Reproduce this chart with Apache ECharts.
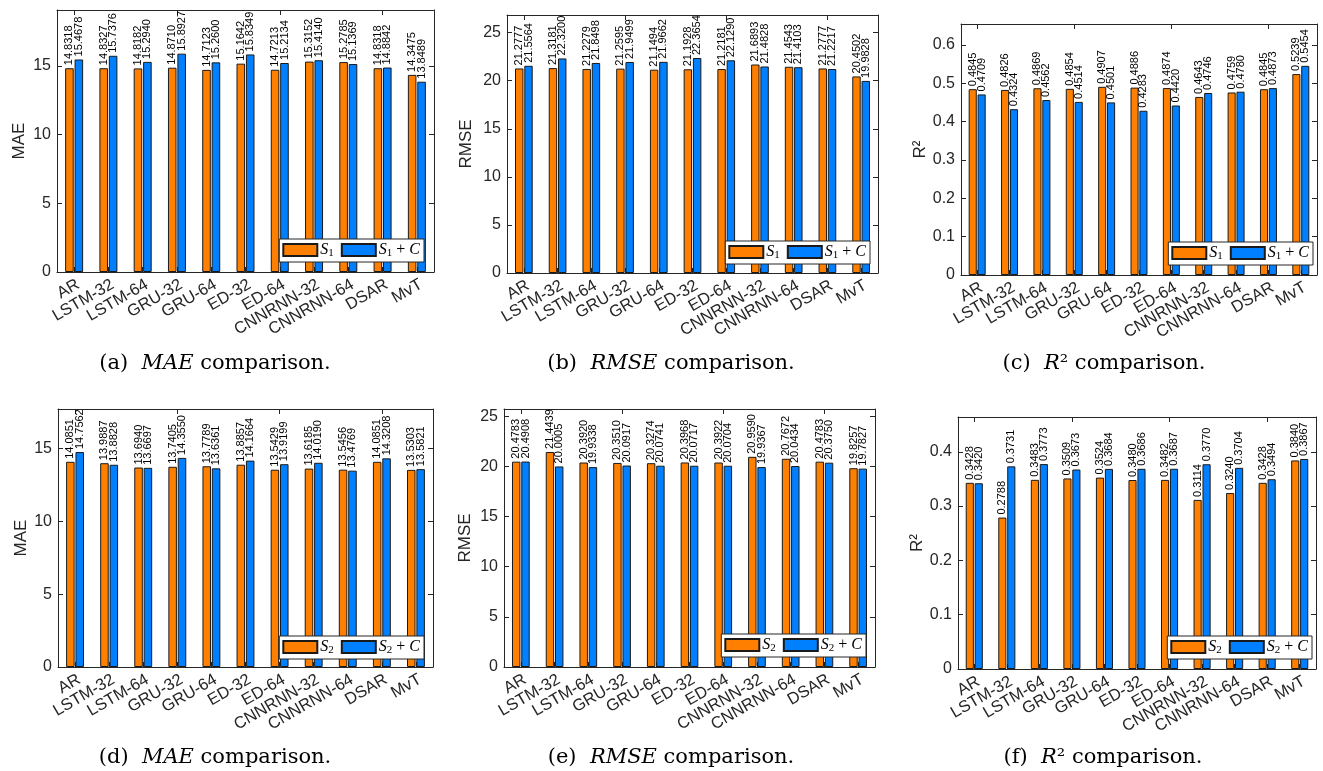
<!DOCTYPE html>
<html><head><meta charset="utf-8">
<script src="https://cdn.jsdelivr.net/npm/echarts@6/dist/echarts.min.js"></script>
<style>html,body{margin:0;padding:0;background:#fff;}#c{width:1323px;height:771px;}</style>
</head><body><div id="c"></div>
<script>
const categories = ['AR','LSTM-32','LSTM-64','GRU-32','GRU-64','ED-32','ED-64','CNNRNN-32','CNNRNN-64','DSAR','MvT'];

const maeS1   = [14.8318, 14.8327, 14.8182, 14.8710, 14.7123, 15.1642, 14.7213, 15.3152, 15.2785, 14.8318, 14.3475];
const maeS1C  = [15.4678, 15.7376, 15.2940, 15.8927, 15.2600, 15.8349, 15.2134, 15.4140, 15.1369, 14.8842, 13.8489];
const rmseS1  = [21.2777, 21.3181, 21.2279, 21.2595, 21.1494, 21.1928, 21.2181, 21.6893, 21.4543, 21.2777, 20.4502];
const rmseS1C = [21.5564, 22.3200, 21.8498, 21.9499, 21.9662, 22.3654, 22.1290, 21.4828, 21.4103, 21.2217, 19.9828];
const r2S1    = [0.4845, 0.4826, 0.4869, 0.4854, 0.4907, 0.4886, 0.4874, 0.4643, 0.4759, 0.4845, 0.5239];
const r2S1C   = [0.4709, 0.4324, 0.4562, 0.4514, 0.4501, 0.4283, 0.4420, 0.4746, 0.4780, 0.4873, 0.5454];

const maeS2   = [14.0851, 13.9887, 13.6940, 13.7405, 13.7789, 13.8857, 13.5429, 13.6185, 13.5456, 14.0851, 13.5303];
const maeS2C  = [14.7562, 13.8828, 13.6697, 14.3550, 13.6361, 14.1664, 13.9199, 14.0190, 13.4769, 14.3208, 13.5821];
const rmseS2  = [20.4783, 21.4439, 20.3920, 20.3510, 20.3274, 20.3968, 20.3922, 20.9590, 20.7672, 20.4783, 19.8257];
const rmseS2C = [20.4908, 20.0005, 19.9338, 20.0917, 20.0741, 20.0717, 20.0704, 19.9367, 20.0434, 20.3750, 19.7827];
const r2S2    = [0.3428, 0.2788, 0.3483, 0.3509, 0.3524, 0.3480, 0.3482, 0.3114, 0.3240, 0.3428, 0.3840];
const r2S2C   = [0.3420, 0.3731, 0.3773, 0.3673, 0.3684, 0.3686, 0.3687, 0.3770, 0.3704, 0.3494, 0.3867];

const seriesNames1 = ['S1', 'S1+C'];
const seriesNames2 = ['S2', 'S2+C'];
const yMaxes = [19.07, 26.84, 0.6545, 17.71, 25.73, 0.464];

const panels = [
  {L:57,  T:10,  R:434,  B:272, a:maeS1,  b:maeS1C,  names:seriesNames1, yName:'MAE',  gap:29, interval:5,   cap:'(a)  {it|MAE} comparison.',  cx:215,  cy:364, lr:424,  lb:262},
  {L:507, T:15,  R:878,  B:273, a:rmseS1, b:rmseS1C, names:seriesNames1, yName:'RMSE', gap:32, interval:5,   cap:'(b)  {it|RMSE} comparison.', cx:671,  cy:364, lr:870,  lb:264},
  {L:961, T:24,  R:1317, B:275, a:r2S1,   b:r2S1C,   names:seriesNames1, yName:'R²',   gap:30, interval:0.1, cap:'(c)  {it|R}² comparison.',   cx:1104, cy:364, lr:1313, lb:265},
  {L:58,  T:409, R:433,  B:667, a:maeS2,  b:maeS2C,  names:seriesNames2, yName:'MAE',  gap:28, interval:5,   cap:'(d)  {it|MAE} comparison.',  cx:215,  cy:758, lr:424,  lb:659},
  {L:504, T:409, R:875,  B:667, a:rmseS2, b:rmseS2C, names:seriesNames2, yName:'RMSE', gap:30, interval:5,   cap:'(e)  {it|RMSE} comparison.', cx:671,  cy:758, lr:866,  lb:657},
  {L:958, T:417, R:1316, B:669, a:r2S2,   b:r2S2C,   names:seriesNames2, yName:'R²',   gap:28, interval:0.1, cap:'(f)  {it|R}² comparison.',   cx:1103, cy:758, lr:1312, lb:659}
];

const AX = '#262626';
const SANS = 'Liberation Sans';
const SERIF = 'DejaVu Serif';
const LSERIF = 'Liberation Serif';
const ORANGE = '#FF8000';
const BLUE = '#0080FF';

const grids = [], xAxes = [], yAxes = [], series = [], legends = [], graphics = [];

panels.forEach((p, i) => {
  const ymax = yMaxes[i];
  grids.push({left:p.L, top:p.T, width:p.R - p.L, height:p.B - p.T, show:false});
  const tickFmt = v => {
    const k = v / p.interval;
    if (Math.abs(k - Math.round(k)) > 1e-6) return '';
    return String(+v.toFixed(p.interval < 1 ? 1 : 0));
  };
  const baseX = {
    type:'category', gridIndex:i, data:categories, boundaryGap:true,
    axisLine:{show:true, onZero:false, lineStyle:{color:AX, width:1}},
    axisTick:{show:true, inside:true, alignWithLabel:true, length:5, lineStyle:{color:AX}},
    splitLine:{show:false}
  };
  xAxes.push(Object.assign({}, baseX, {
    position:'bottom',
    axisLabel:{show:true, interval:0, rotate:30, verticalAlign:'top', fontSize:16.5, color:AX, fontFamily:SANS, margin:4}
  }));
  xAxes.push(Object.assign({}, baseX, {position:'top', axisLabel:{show:false}}));
  const baseY = {
    type:'value', gridIndex:i, min:0, max:ymax, interval:p.interval,
    axisLine:{show:true, onZero:false, lineStyle:{color:AX, width:1}},
    axisTick:{show:true, inside:true, length:5, lineStyle:{color:AX}},
    splitLine:{show:false}
  };
  yAxes.push(Object.assign({}, baseY, {
    position:'left', name:p.yName, nameLocation:'middle', nameGap:p.gap, nameRotate:90,
    nameTextStyle:{fontSize:17, color:AX, fontFamily:SANS},
    axisLabel:{show:true, fontSize:16, color:AX, fontFamily:SANS, margin:6, formatter:tickFmt, showMaxLabel:false}
  }));
  yAxes.push(Object.assign({}, baseY, {position:'right', axisLabel:{show:false}}));

  const mk = (name, data, color) => ({
    type:'bar', name, data, xAxisIndex:2*i, yAxisIndex:2*i,
    barWidth:'25%', barGap:'10%',
    itemStyle:{color, borderColor:'#1a1a1a', borderWidth:1},
    label:{show:true, position:'top', rotate:90, align:'left', verticalAlign:'middle', distance:3,
      fontSize:11, fontFamily:SANS, color:'#000', formatter:q => q.value.toFixed(4)},
    emphasis:{disabled:true}, silent:true
  });
  series.push(mk(p.names[0], p.a, ORANGE));
  series.push(mk(p.names[1], p.b, BLUE));

  const sub = p.names[0].slice(1);
  legends.push({
    data:p.names, orient:'horizontal', right:1323 - p.lr, bottom:771 - p.lb,
    icon:'rect', itemWidth:34, itemHeight:12, itemGap:7,
    backgroundColor:'#fff', borderColor:AX, borderWidth:1, padding:[3,4,3,3],
    selectedMode:false,
    formatter: n => n.indexOf('+') >= 0 ? '{i|S}{s|' + sub + '}{n| + }{i|C}' : '{i|S}{s|' + sub + '}',
    textStyle:{fontSize:16, fontFamily:LSERIF, color:'#000', padding:[0,0,0,-2],
      rich:{
        i:{fontSize:16, fontFamily:LSERIF, fontStyle:'italic', color:'#000', lineHeight:18},
        s:{fontSize:11, fontFamily:LSERIF, color:'#000', lineHeight:18, verticalAlign:'bottom'},
        n:{fontSize:16, fontFamily:LSERIF, color:'#000', lineHeight:18}
      }}
  });

  graphics.push({
    type:'text', x:p.cx, y:p.cy,
    style:{text:p.cap, fontSize:21, fontFamily:SERIF, fill:'#000', align:'center', verticalAlign:'middle',
      rich:{it:{fontStyle:'italic', fontSize:21, fontFamily:SERIF, fill:'#000'}}}
  });
});

const chart = echarts.init(document.getElementById('c'), null, {renderer:'canvas'});
chart.setOption({
  animation:false,
  backgroundColor:'#fff',
  grid:grids, xAxis:xAxes, yAxis:yAxes, series, legend:legends, graphic:graphics
});
</script></body></html>
